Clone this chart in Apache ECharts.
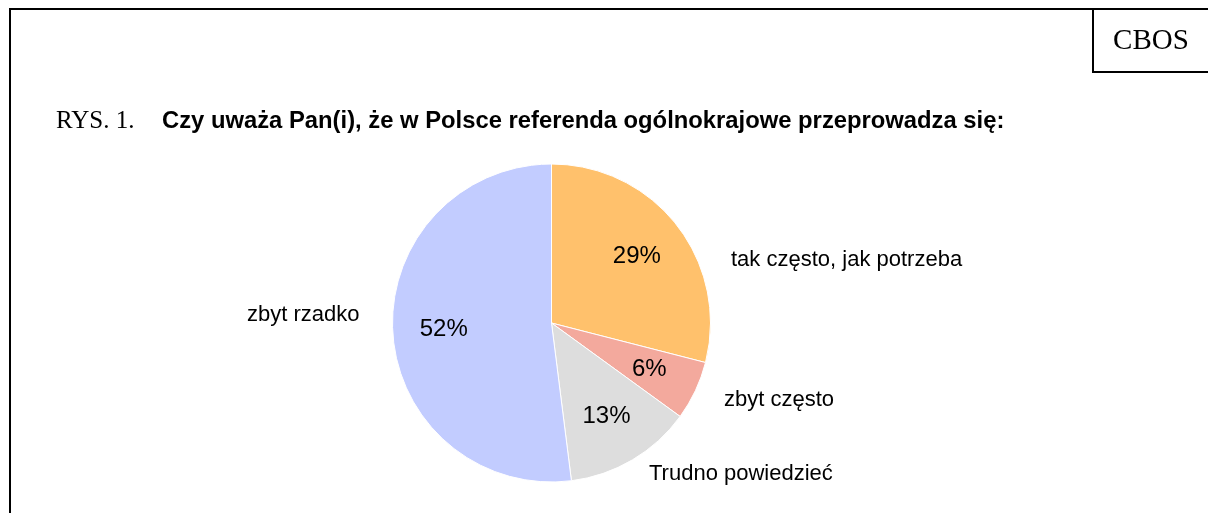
<!DOCTYPE html>
<html>
<head>
<meta charset="utf-8">
<style>
  html, body { margin: 0; padding: 0; background: #fff; }
  #chart { width: 1208px; height: 513px; }
</style>
<script src="https://cdn.jsdelivr.net/npm/echarts@6/dist/echarts.min.js"></script>
</head>
<body>
<div id="chart"></div>
<script>
  // dane z wykresu
  const categories = ['tak często, jak potrzeba', 'zbyt często', 'Trudno powiedzieć', 'zbyt rzadko']
  const values = [29, 6, 13, 52]
  const sliceColors = ['#FFC16C', '#F3A99D', '#DDDDDD', '#C2CCFF']
  // pozycje etykiet (jak w oryginale)
  const labelPos = [[731, 260], [724, 400], [649, 474], [247, 315]]

  const pieData = categories.map(function (name, i) {
    return { name: name, value: values[i], itemStyle: { color: sliceColors[i] } }
  })

  const chart = echarts.init(document.getElementById('chart'))
  chart.setOption({
    backgroundColor: '#fff',
    animation: false,
    graphic: [
      {
        type: 'rect',
        shape: { x: 10, y: 9, width: 1400, height: 700 },
        style: { fill: 'none', stroke: '#000', lineWidth: 2 }
      },
      {
        type: 'rect',
        shape: { x: 1093, y: 9, width: 300, height: 63 },
        style: { fill: '#fff', stroke: '#000', lineWidth: 2 }
      },
      {
        type: 'text',
        x: 1151,
        y: 41,
        style: {
          text: 'CBOS',
          fontFamily: 'Liberation Serif',
          fontSize: 29,
          fill: '#000',
          align: 'center',
          verticalAlign: 'middle',
          textAlign: 'center',
          textVerticalAlign: 'middle'
        }
      },
      {
        type: 'text',
        x: 56,
        y: 121,
        style: {
          text: 'RYS. 1.',
          fontFamily: 'Liberation Serif',
          fontSize: 25,
          fill: '#000',
          align: 'left',
          verticalAlign: 'middle',
          textAlign: 'left',
          textVerticalAlign: 'middle'
        }
      },
      {
        type: 'text',
        x: 162,
        y: 121,
        style: {
          text: 'Czy uważa Pan(i), że w Polsce referenda ogólnokrajowe przeprowadza się:',
          fontFamily: 'Liberation Sans',
          fontWeight: 'bold',
          fontSize: 23.8,
          fill: '#000',
          align: 'left',
          verticalAlign: 'middle',
          textAlign: 'left',
          textVerticalAlign: 'middle'
        }
      }
    ],
    series: [
      {
        type: 'pie',
        silent: true,
        center: [551.5, 323],
        radius: 159,
        startAngle: 90,
        clockwise: true,
        avoidLabelOverlap: false,
        itemStyle: { borderColor: '#fff', borderWidth: 1 },
        label: {
          show: true,
          position: 'outside',
          formatter: '{b}',
          fontFamily: 'Liberation Sans',
          fontSize: 22,
          color: '#000'
        },
        labelLine: { show: false },
        labelLayout: function (params) {
          const p = labelPos[params.dataIndex]
          return { x: p[0], y: p[1], align: 'left', verticalAlign: 'middle' }
        },
        data: pieData
      },
      {
        // tylko etykiety procentowe wewnątrz
        type: 'pie',
        silent: true,
        center: [551.5, 323],
        radius: [51, 159],
        startAngle: 90,
        clockwise: true,
        avoidLabelOverlap: false,
        itemStyle: { color: 'transparent', borderWidth: 0 },
        label: {
          show: true,
          position: 'inside',
          formatter: '{c}%',
          fontFamily: 'Liberation Sans',
          fontSize: 24,
          color: '#000'
        },
        labelLine: { show: false },
        data: categories.map(function (name, i) {
          return { name: name, value: values[i] }
        })
      }
    ]
  })
</script>
</body>
</html>
